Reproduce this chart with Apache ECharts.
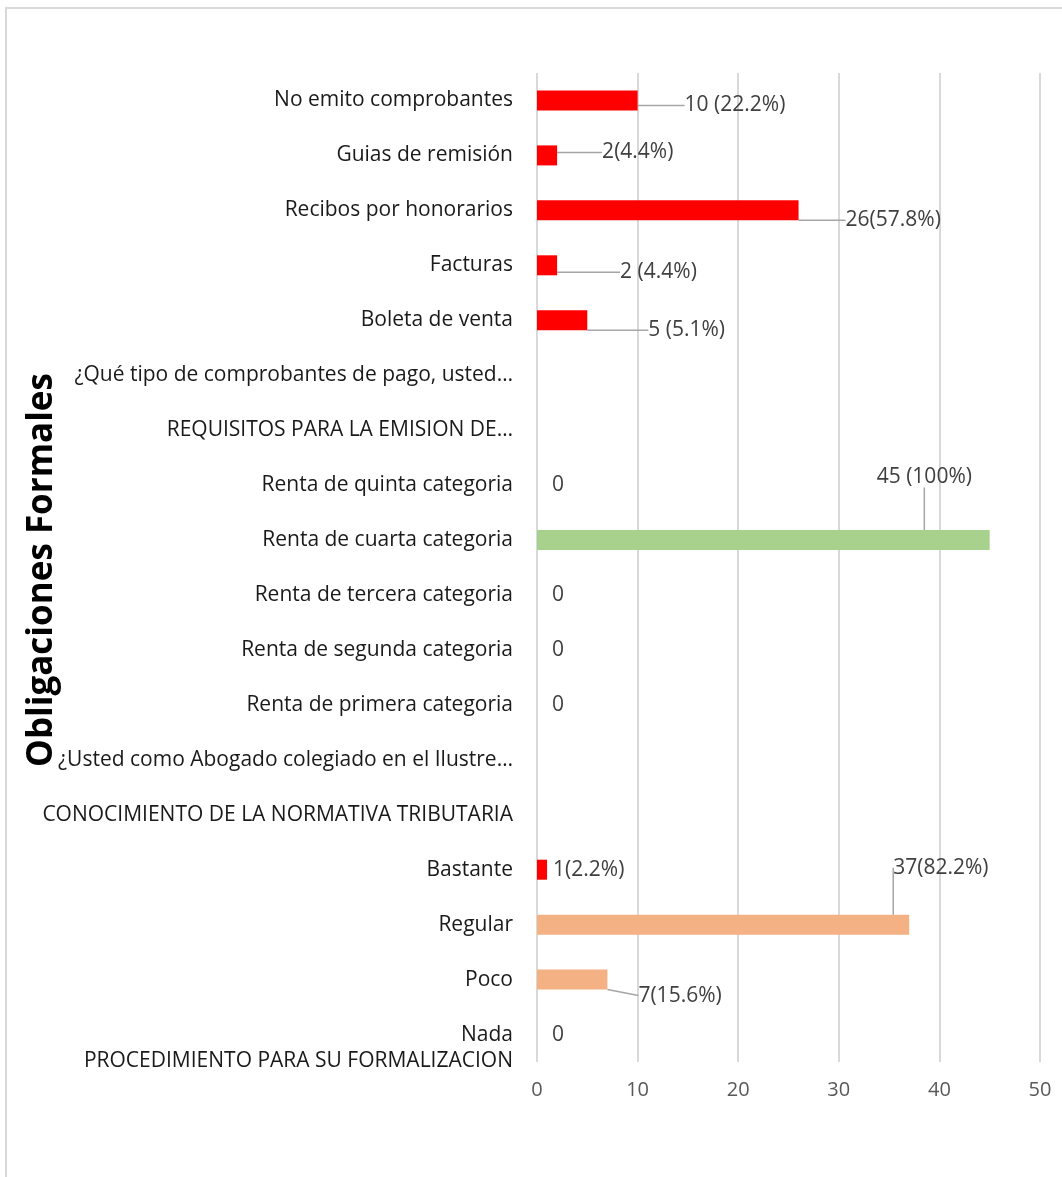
<!DOCTYPE html>
<html>
<head>
<meta charset="utf-8">
<script src="https://cdn.jsdelivr.net/npm/echarts@6/dist/echarts.min.js"></script>
<style>
  html, body { margin: 0; padding: 0; background: #fff; }
  #frame {
    position: absolute; left: 5px; top: 7px; width: 1080px; height: 1200px;
    border: 2px solid #d9d9d9; box-sizing: border-box;
  }
  #chart { position: absolute; left: 0; top: 0; width: 1062px; height: 1177px; }
</style>
</head>
<body>
<div id="frame"></div>
<div id="chart"></div>
<script>
// categories, top to bottom
var categories = [
  "No emito comprobantes",
  "Guias de remisión",
  "Recibos por honorarios",
  "Facturas",
  "Boleta de venta",
  "¿Qué tipo de comprobantes de pago, usted…",
  "REQUISITOS PARA LA EMISION DE…",
  "Renta de quinta categoria",
  "Renta de cuarta categoria",
  "Renta de tercera categoria",
  "Renta de segunda categoria",
  "Renta de primera categoria",
  "¿Usted como Abogado colegiado en el Ilustre…",
  "CONOCIMIENTO DE LA NORMATIVA TRIBUTARIA",
  "Bastante",
  "Regular",
  "Poco",
  "Nada"
];
var values = [10, 2, 26, 2, 5, null, null, 0, 45, 0, 0, 0, null, null, 1, 37, 7, 0];
var valueLabels = [
  "10 (22.2%)", "2(4.4%)", "26(57.8%)", "2 (4.4%)", "5 (5.1%)", "", "",
  "0", "45 (100%)", "0", "0", "0", "", "",
  "1(2.2%)", "37(82.2%)", "7(15.6%)", "0"
];
var barColors = [
  "#FF0000", "#FF0000", "#FF0000", "#FF0000", "#FF0000", "#FF0000", "#FF0000",
  "#A9D18E", "#A9D18E", "#A9D18E", "#A9D18E", "#A9D18E", "#A9D18E", "#A9D18E",
  "#FF0000", "#F4B183", "#F4B183", "#F4B183"
];
var groupLabel = "PROCEDIMIENTO PARA SU FORMALIZACION";
var axisTitle = "Obligaciones Formales";
var xTicks = { min: 0, max: 50, interval: 10 };

// label offsets and leader line flags (layout only)
var labelOffsets = [
  [42, 5], [40, -3], [42, 10], [58, 7], [56, 10], [0, 0], [0, 0],
  [10, 0], [-118, -63], [10, 0], [10, 0], [10, 0], [0, 0], [0, 0],
  [1, 0], [-21, -57], [26, 16], [10, 0]
];
var showLine = [1, 1, 1, 1, 1, 0, 0, 0, 1, 0, 0, 0, 0, 0, 0, 1, 1, 0];

var font = "Open Sans";
var chart = echarts.init(document.getElementById("chart"));
chart.setOption({
  animation: false,
  grid: { left: 537, right: 22, top: 73, bottom: 115, containLabel: false },
  xAxis: {
    type: "value",
    min: xTicks.min, max: xTicks.max, interval: xTicks.interval,
    axisLine: { show: false },
    axisTick: { show: false },
    axisLabel: { color: "#595959", fontSize: 20, fontFamily: font, margin: 18 },
    splitLine: { lineStyle: { color: "#d9d9d9", width: 2 } }
  },
  yAxis: {
    type: "category",
    inverse: true,
    data: categories,
    axisLine: { show: false },
    axisTick: { show: false },
    axisLabel: { color: "#1a1a1a", fontSize: 21, fontFamily: font, margin: 24 }
  },
  series: [{
    type: "bar",
    barWidth: 20,
    data: values.map(function (v, i) {
      return {
        value: v,
        itemStyle: { color: barColors[i] },
        labelLine: { show: !!showLine[i] }
      };
    }),
    label: {
      show: true,
      position: "right",
      distance: 5,
      color: "#404040",
      fontSize: 21,
      fontFamily: font,
      formatter: function (p) { return valueLabels[p.dataIndex]; }
    },
    labelLine: { lineStyle: { color: "#A6A6A6", width: 1.5 } },
    labelLayout: function (p) {
      var o = labelOffsets[p.dataIndex];
      return { dx: o[0], dy: o[1] };
    }
  }],
  graphic: [
    {
      type: "text",
      x: 513, y: 1061,
      style: {
        text: groupLabel, fill: "#1a1a1a", fontSize: 21,
        fontFamily: font, align: "right", verticalAlign: "middle"
      }
    },
    {
      type: "text",
      x: 42, y: 570, rotation: Math.PI / 2,
      style: {
        text: axisTitle, fill: "#000", fontSize: 35, fontWeight: "bold",
        fontFamily: font, align: "center", verticalAlign: "middle"
      }
    }
  ]
});
</script>
</body>
</html>
